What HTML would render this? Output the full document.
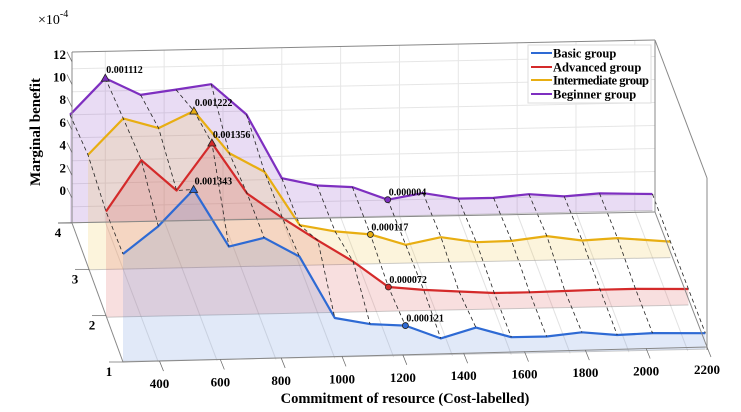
<!DOCTYPE html>
<html><head><meta charset="utf-8"><style>
html,body{margin:0;padding:0;background:#fff}
svg{display:block;font-family:"Liberation Serif",serif;font-weight:bold}
</style></head><body>
<svg id="c" width="741" height="412" viewBox="0 0 741 412" xmlns="http://www.w3.org/2000/svg">
  <g id="grid"></g>
  <g id="series"></g>
  <g id="axes"></g>
  <text x="38" y="24" font-size="14" font-weight="normal">×10<tspan dy="-7" font-size="10">-4</tspan></text>
  <text transform="translate(40,132) rotate(-90)" text-anchor="middle" font-size="15">Marginal benefit</text>
  <text x="405" y="403" text-anchor="middle" font-size="14.5">Commitment of resource (Cost-labelled)</text>
  <g>
    <rect x="528" y="45" width="123" height="58" fill="#fff" stroke="#ddd"/>
    <line x1="531" y1="53" x2="552" y2="53" stroke="#2e6ad4" stroke-width="2"/>
    <text x="553" y="57.5" font-size="12.5">Basic group</text>
    <line x1="531" y1="67" x2="552" y2="67" stroke="#d42a2a" stroke-width="2"/>
    <text x="553" y="71.5" font-size="12.5">Advanced group</text>
    <line x1="531" y1="80" x2="552" y2="80" stroke="#e8ae12" stroke-width="2"/>
    <text x="553" y="84.5" font-size="12.5" textLength="96">Intermediate group</text>
    <line x1="531" y1="94" x2="552" y2="94" stroke="#7e2fc0" stroke-width="2"/>
    <text x="553" y="98.5" font-size="12.5">Beginner group</text>
  </g>
</svg>
<script>
const costs = [280,400,520,640,760,880,1000,1120,1240,1360,1480,1600,1720,1840,1960,2080,2260];
const beginner = [8.0,11.12,9.6,10.0,10.4,7.7,2.1,1.4,1.2,0.04,0.55,0.0,0.0,0.26,0.0,0.2,0.05];
const intermediate = [8.6,11.7,10.8,12.22,8.5,6.8,2.1,1.5,1.17,0.2,0.8,0.3,0.35,0.7,0.25,0.4,0.0];
const advanced = [7.8,12.2,9.5,13.56,9.1,6.9,4.9,3.0,0.72,0.4,0.2,0.0,0.0,0.05,0.1,0.1,0.0];
const basic = [7.95,10.3,13.43,8.4,9.1,7.4,2.0,1.4,1.21,0.03,0.9,0.0,0.0,0.3,0.0,0.1,0.0];
const xTicks = [400,600,800,1000,1200,1400,1600,1800,2000,2200];
const yTicks = [0,2,4,6,8,10,12];
const depthTicks = [1,2,3,4];

const NS="http://www.w3.org/2000/svg";
function mk(tag,attrs,parent){const e=document.createElementNS(NS,tag);for(const k in attrs)e.setAttribute(k,attrs[k]);parent.appendChild(e);return e;}
const K=35.3/120, KY=11.5, SLOPE=0.021, FLOOR=16;
const planes=[
 {name:'beginner',vals:beginner,x0:70,z0:206.8,col:'#7e2fc0',fill:'#7e2fc0',peak:1,low:9},
 {name:'intermediate',vals:intermediate,x0:88,z0:253.8,col:'#e8ae12',fill:'#edc030',peak:3,low:8},
 {name:'advanced',vals:advanced,x0:106,z0:301.2,col:'#d42a2a',fill:'#d84040',peak:3,low:8},
 {name:'basic',vals:basic,x0:123,z0:345.4,col:'#2e6ad4',fill:'#4d7fd8',peak:2,low:8}
];
function px(p,c){return p.x0+(c-costs[0])*K;}
function zy(p,x){return p.z0-(x-p.x0)*SLOPE;}
function py(p,c,v){return zy(p,px(p,c))-v*KY;}

const grid=document.getElementById('grid');
const P0=planes[0];
yTicks.forEach(t=>{
  const l=mk('line',{x1:72,y1:zy(P0,72)-t*KY,x2:655,y2:zy(P0,655)-t*KY,stroke:'#e6e6e6','stroke-width':1},grid);
  
  
});
xTicks.forEach(t=>{
  const x=P0.x0+(t-costs[0])*K;
  if(x>72&&x<655){
    const l=mk('line',{x1:x,y1:52-(x-72)*0.02,x2:x,y2:zy(P0,x)+FLOOR,stroke:'#e6e6e6'},grid);
    
    
    const f=mk('line',{x1:x,y1:zy(P0,x)+FLOOR,x2:x+53,y2:zy(P0,x)+FLOOR+140,stroke:'#e2e2e2'},grid);
    
    
  }
});

const S=document.getElementById('series');
planes.forEach(p=>{
  const g=mk('g',{},S);
  
  
  const pts=costs.map((c,i)=>[px(p,c),py(p,c,p.vals[i])]);
  const xl=pts[0][0], xr=pts[pts.length-1][0];
  let d='M'+xl+','+(zy(p,xl)+FLOOR);
  pts.forEach(q=>d+=' L'+q[0].toFixed(1)+','+q[1].toFixed(1));
  d+=' L'+xr+','+(zy(p,xr)+FLOOR)+' Z';
  const a=mk('path',{d:d,fill:p.fill,'fill-opacity':0.17,stroke:'none'},g);
  
  
  const fl=mk('line',{x1:xl,y1:zy(p,xl)+FLOOR,x2:xr,y2:zy(p,xr)+FLOOR,stroke:'#999','stroke-opacity':0.5},g);
  
  
  const ln=mk('polyline',{points:pts.map(q=>q[0].toFixed(1)+','+q[1].toFixed(1)).join(' '),fill:'none',stroke:p.col,'stroke-width':2.2,'stroke-linejoin':'round'},g);
  
  
  p.pts=pts;
});
costs.forEach((c,i)=>{
  const l=mk('polyline',{points:planes.map(p=>p.pts[i][0].toFixed(1)+','+p.pts[i][1].toFixed(1)).join(' '),fill:'none',stroke:'#222','stroke-width':0.8,'stroke-dasharray':'4,3'},S);
  
  
});
planes.forEach(p=>{
  const [x1,y1]=p.pts[p.peak];
  const t=mk('polygon',{points:`${x1-4},${y1+3} ${x1+4},${y1+3} ${x1},${y1-4}`,fill:p.col,stroke:'#222','stroke-width':0.8},S);
  
  
  const tl=mk('text',{x:x1+1,y:y1-5,'font-size':10},S);
  tl.textContent=(p.vals[p.peak]/10000).toFixed(6);
  
  
  const [x2,y2]=p.pts[p.low];
  const c=mk('circle',{cx:x2,cy:y2,r:3,fill:p.col,stroke:'#222','stroke-width':0.8},S);
  
  
  const cl=mk('text',{x:x2+1,y:y2-4,'font-size':10},S);
  cl.textContent=(p.vals[p.low]/10000).toFixed(6);
  
  
});

const A=document.getElementById('axes');
const box=[[72,52,655,40],[72,52,72,223],[655,40,655,212],[655,40,707,178],[707,178,707,350],[655,212,707,347],[72,223,123,362],[58,223,655,212],[123,362,707,347]];
box.forEach((b,i)=>{
  const l=mk('line',{x1:b[0],y1:b[1],x2:b[2],y2:b[3],stroke:'#888','stroke-width':1},A);
  
  
});
yTicks.forEach(t=>{
  const y=190-t*11.35;
  const tx=mk('text',{x:66,y:y+5,'text-anchor':'end','font-size':13},A);
  tx.textContent=t;
  
  
  const l=mk('line',{x1:67,y1:y-2,x2:72,y2:y+8,stroke:'#666','stroke-width':0.7},A);
  
  
});
depthTicks.forEach(t=>{
  const f=(4-t)/3;
  const xa=72+f*51, ya=223+f*139;
  const tx=mk('text',{x:xa-14,y:ya+14,'text-anchor':'middle','font-size':13},A);
  tx.textContent=t;
  
  
  const l=mk('line',{x1:xa-14,y1:ya,x2:xa,y2:ya,stroke:'#666','stroke-width':0.7},A);
  
  
});
const Pb=planes[3];
xTicks.forEach(t=>{
  const x=Pb.x0+(t-costs[0])*((707-Pb.x0)/(2200-costs[0]));
  const y=362-(x-123)*0.0257;
  const l=mk('line',{x1:x,y1:y,x2:x+4,y2:y+10,stroke:'#666','stroke-width':0.7},A);
  
  
  const tx=mk('text',{x:x,y:y+27,'text-anchor':'middle','font-size':13},A);
  tx.textContent=t;
  
  
});
</script>
</body></html>
